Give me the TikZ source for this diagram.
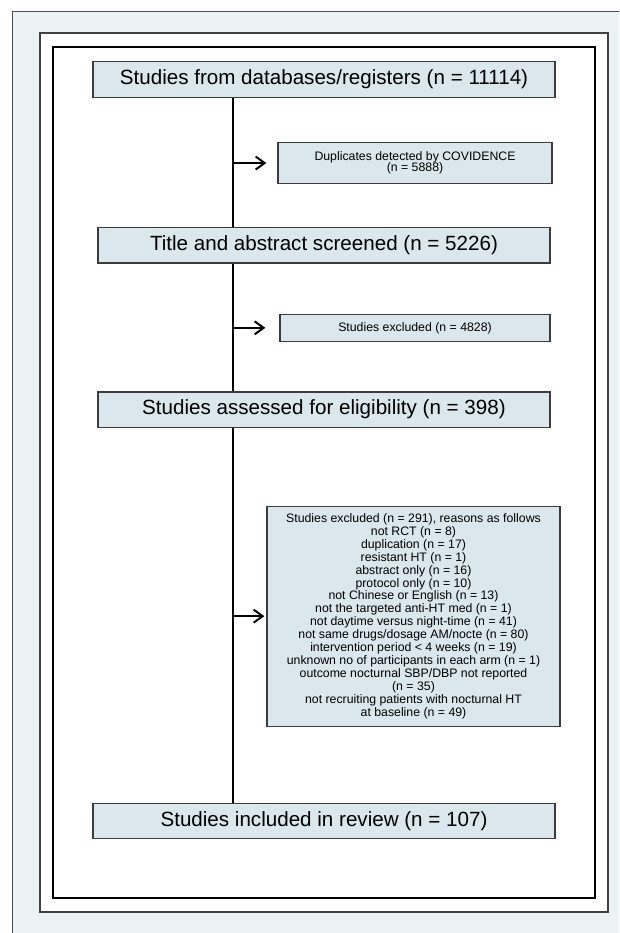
\documentclass[tikz,border=0pt]{standalone}
\usepackage{fontspec}
\setmainfont{Liberation Sans}
\usetikzlibrary{positioning,arrows.meta}

\definecolor{pagebg}{HTML}{EBF3F5}
\definecolor{boxfill}{HTML}{DAE7ED}
\definecolor{boxline}{HTML}{3C3C3C}

\begin{document}
\begin{tikzpicture}[
x=1pt, y=-1pt,
% node style
mainrect/.style={rectangle, draw=boxline, line width=1.3pt, fill=boxfill, minimum height=35.5pt, inner sep=0pt, font=\fontsize{20.6}{24}\selectfont},
siderect/.style={rectangle, draw=boxline, line width=1.3pt, fill=boxfill, inner sep=0pt, align=center, font=\fontsize{12.3}{12.9}\selectfont},
arr/.style={line width=2pt, -{Straight Barb[length=9pt,width=13pt]}}
]

% frames
\useasboundingbox (0,0) rectangle (619,933);
\clip (0,0) rectangle (619,933);
\fill[white] (0,0) rectangle (619,933);
\draw[fill=pagebg, draw=black!70, line width=1pt] (12,12) rectangle (640,960);
\draw[fill=white, draw=black!75, line width=1.4pt] (40,33) rectangle (608,912);
\draw[line width=2.6pt] (53,47) rectangle (595,898);

% nodes
\node[mainrect, minimum width=462pt] (db_src) at (324,79.5) {Studies from databases/registers (n = 11114)};
\node[siderect, minimum width=274pt, minimum height=41pt, font=\fontsize{12.3}{11.5}\selectfont] (dup_excl) [below=44pt of db_src, xshift=91pt] {Duplicates detected by COVIDENCE\\(n = 5888)};
\node[mainrect, minimum width=452pt] (ta_scr) [below=129pt of db_src] {Title and abstract screened (n = 5226)};
\node[siderect, minimum width=270pt, minimum height=27pt] (ta_excl) [below=50pt of ta_scr, xshift=91pt] {Studies excluded (n = 4828)};
\node[mainrect, minimum width=452pt] (elig) [below=127.5pt of ta_scr] {Studies assessed for eligibility (n = 398)};
\node[siderect, minimum width=293pt, minimum height=220pt] (ft_excl) [below=77.5pt of elig, xshift=89.5pt] {
  Studies excluded (n = 291), reasons as follows\\
  not RCT (n = 8)\\
  duplication (n = 17)\\
  resistant HT (n = 1)\\
  abstract only (n = 16)\\
  protocol only (n = 10)\\
  not Chinese or English (n = 13)\\
  not the targeted anti-HT med (n = 1)\\
  not daytime versus night-time (n = 41)\\
  not same drugs/dosage AM/nocte (n = 80)\\
  intervention period < 4 weeks (n = 19)\\
  unknown no of participants in each arm (n = 1)\\
  outcome nocturnal SBP/DBP not reported\\
  (n = 35)\\
  not recruiting patients with nocturnal HT\\
  at baseline (n = 49)
};
\node[mainrect, minimum width=462pt] (incl) [below=374.5pt of elig] {Studies included in review (n = 107)};

% draw lines between nodes
\coordinate (spine) at (233,0);
\draw[line width=2pt] (db_src.south -| spine) -- (ta_scr.north -| spine);
\draw[line width=2pt] (ta_scr.south -| spine) -- (elig.north -| spine);
\draw[line width=2pt] (elig.south -| spine) -- (incl.north -| spine);

% arrows to excluded boxes
\draw[arr] (dup_excl.west -| spine) -- ([xshift=-11pt]dup_excl.west);
\draw[arr] (ta_excl.west -| spine) -- ([xshift=-14pt]ta_excl.west);
\draw[arr] (ft_excl.west -| spine) -- ([xshift=-2pt]ft_excl.west);

\end{tikzpicture}
\end{document}
